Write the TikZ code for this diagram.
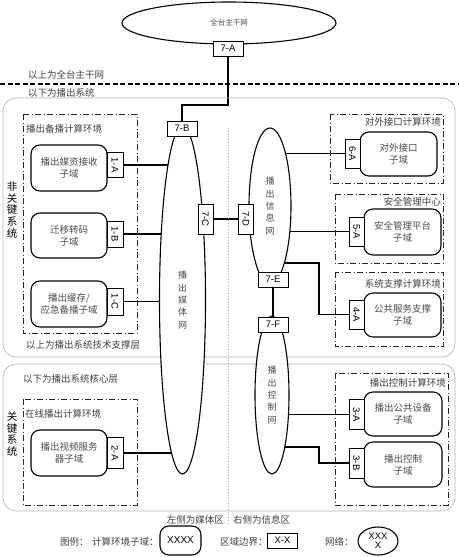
\documentclass[tikz,border=0pt]{standalone}
\usepackage{fontspec}
\usepackage{graphicx}
\setmainfont{Noto Sans CJK SC}
\setsansfont{Liberation Sans}
\usetikzlibrary{shapes.geometric,backgrounds}

\newcommand\zhsize{\fontsize{9.5}{12}\selectfont}
\newcommand\vlab[1]{\rotatebox{-90}{#1}}

\tikzset{
  net/.style={draw, ellipse, line width=1.1pt, fill=white, inner sep=0pt, outer sep=0pt,
    align=center, text=black!70, font=\fontsize{9}{12.3}\selectfont},
  sub/.style={draw, line width=1.1pt, rounded corners=9pt, fill=white, align=center,
    text=black!70, font=\zhsize, inner sep=0pt, outer sep=0pt},
  port/.style={draw, line width=1pt, fill=white, font=\sffamily\fontsize{9.5}{10}\selectfont,
    inner sep=0pt, outer sep=0pt},
  vport/.style={port, minimum width=15pt, minimum height=29pt},
  hport/.style={port, minimum width=30pt, minimum height=15pt},
  envbox/.style={line width=0.8pt, dash pattern=on 6pt off 2.5pt on 1pt off 2.5pt, black!85},
  zone/.style={draw=black!30, line width=0.6pt, rounded corners=13pt},
  link/.style={line width=1.1pt},
  note/.style={text=black!75, font=\zhsize, inner sep=0pt},
  side/.style={font=\fontsize{10.5}{11.6}\selectfont, align=center, inner sep=0pt}
}

\begin{document}
\begin{tikzpicture}[x=1pt,y=-1pt]
\useasboundingbox (0,0) rectangle (458,557);

% zones and environments
\draw[zone] (3,98) rectangle (455,357);
\draw[zone] (3,364) rectangle (455,511);
\draw[line width=1.6pt, dash pattern=on 5pt off 2.5pt] (0,84) -- (458,84);
\draw[black!30, dotted, line width=0.8pt] (228,128) -- (228,523);

\draw[envbox] (23,114) rectangle (137,333);
\draw[envbox] (23,399) rectangle (137,505);
\draw[envbox] (330,114) rectangle (443,183);
\draw[envbox] (335,194) rectangle (443,263);
\draw[envbox] (335,272) rectangle (443,346);
\draw[envbox] (335,373) rectangle (448,505);

\node[note, anchor=west] (upper) at (28,75) {以上为全台主干网};
\node[note, anchor=west] (lower) at (28,93) {以下为播出系统};
\node[note, anchor=west] (envA) at (26,129) {播出备播计算环境};
\node[note, anchor=west] (layerA) at (26,345) {以上为播出系统技术支撑层};
\node[note, anchor=west] (layerB) at (23,379) {以下为播出系统核心层};
\node[note, anchor=west] (envB) at (25,414) {在线播出计算环境};
\node[note, anchor=east] (envF) at (441,122) {对外接口计算环境};
\node[note, anchor=east] (envE) at (441,202) {安全管理中心};
\node[note, anchor=east] (envD) at (441,284) {系统支撑计算环境};
\node[note, anchor=east] (envC) at (446,383) {播出控制计算环境};
\node[note, anchor=east] (leftside) at (224,520) {左侧为媒体区};
\node[note, anchor=west] (rightside) at (233,520) {右侧为信息区};

\node[side] (noncore) at (12,210) {非\\关\\键\\系\\统};
\node[side] (core) at (12,434) {关\\键\\系\\统};

% networks
\node[net, minimum width=214pt, minimum height=42pt, font=\fontsize{7.5}{9}\selectfont] (topnet) at (229,23) {全台主干网};
\node[net, minimum width=46pt, minimum height=348pt] (medianet) at (182.5,300) {播\\出\\媒\\体\\网};
\node[net, minimum width=42pt, minimum height=156pt] (infonet) at (270,206) {播\\出\\信\\息\\网};
\node[net, minimum width=34pt, minimum height=158pt] (ctrlnet) at (272,395) {播\\出\\控\\制\\网};

% sub domains
\node[sub, minimum width=76pt, minimum height=46pt] (recv) at (69,168) {播出媒资接收\\子域};
\node[sub, minimum width=76pt, minimum height=45pt] (trans) at (69,235.5) {迁移转码\\子域};
\node[sub, minimum width=76pt, minimum height=46pt] (cache) at (69,304) {播出缓存/\\应急备播子域};
\node[sub, minimum width=76pt, minimum height=46pt] (video) at (69,453) {播出视频服务\\器子域};
\node[sub, minimum width=77pt, minimum height=44pt] (extif) at (398.5,154) {对外接口\\子域};
\node[sub, minimum width=77pt, minimum height=46pt] (secmgr) at (402.5,232) {安全管理平台\\子域};
\node[sub, minimum width=77pt, minimum height=44pt] (pubsvc) at (402.5,315) {公共服务支撑\\子域};
\node[sub, minimum width=78pt, minimum height=44pt] (pubdev) at (403,414) {播出公共设备\\子域};
\node[sub, minimum width=78pt, minimum height=45pt] (ctrl) at (403,464.5) {播出控制\\子域};

% boundary ports
\node[hport] (p7A) at (228,48.5) {7-A};
\node[hport] (p7B) at (182,128.5) {7-B};
\node[vport, minimum height=30pt] (p7C) at (205.5,219) {\vlab{7-C}};
\node[vport, minimum height=30pt] (p7D) at (246,219) {\vlab{7-D}};
\node[hport] (p7E) at (273,279.5) {7-E};
\node[hport] (p7F) at (273,324.5) {7-F};
\node[vport, minimum width=16pt, minimum height=25pt] (p1A) at (115,165) {\vlab{1-A}};
\node[vport, minimum width=16pt, minimum height=26pt] (p1B) at (115,234) {\vlab{1-B}};
\node[vport, minimum width=16pt, minimum height=27pt] (p1C) at (115,301.5) {\vlab{1-C}};
\node[vport, minimum width=16pt, minimum height=31pt] (p2A) at (115,453) {\vlab{2-A}};
\node[vport] (p6A) at (352.5,153.5) {\vlab{6-A}};
\node[vport] (p5A) at (356.5,231.5) {\vlab{5-A}};
\node[vport] (p4A) at (356.5,314.5) {\vlab{4-A}};
\node[vport, minimum height=30pt] (p3A) at (356.5,414.5) {\vlab{3-A}};
\node[vport, minimum height=30pt] (p3B) at (356.5,463) {\vlab{3-B}};

\coordinate (bendB) at (205,105);
\coordinate (k4) at (319,263);
\coordinate (k3) at (319,447);

% links
\begin{scope}[on background layer]
\draw[link] (p7A.south) |- (bendB) -| (p7B.north);
\draw[link] (p1A.east) -- (medianet.center |- p1A.east);
\draw[link] (p1B.east) -- (medianet.center |- p1B.east);
\draw[link] (p1C.east) -- (medianet.center |- p1C.east);
\draw[link] (p2A.east) -- (medianet.center |- p2A.east);
\draw[link] (p7C) -- (p7D);
\draw[link] (p7E) -- (p7F);
\draw[link] (infonet.center |- p6A.west) -- (p6A.west);
\draw[link] (infonet.center |- p5A.west) -- (p5A.west);
\draw[link] (infonet.center |- k4) -- (k4) |- (p4A.west);
\draw[link] (ctrlnet.center |- p3A.west) -- (p3A.west);
\draw[link] (ctrlnet.center |- k3) -- (k3) |- (p3B.west);
\end{scope}

% legend
\node[note, anchor=west] (keytitle) at (60,542) {图例：};
\node[note, anchor=west] (keysubtxt) at (92,542) {计算环境子域：};
\node[sub, minimum width=41pt, minimum height=29pt, font=\sffamily\fontsize{10}{11}\selectfont, text=black] (keysub) at (180.5,540.5) {XXXX};
\node[note, anchor=west] (keyporttxt) at (220,542) {区域边界：};
\node[hport] (keyport) at (282.5,540.5) {X-X};
\node[note, anchor=west] (keynettxt) at (325,542) {网络：};
\node[net, minimum width=40pt, minimum height=28pt, font=\sffamily\fontsize{9.5}{9}\selectfont, text=black] (keynet) at (378,541) {XXX\\X};
\end{tikzpicture}
\end{document}
